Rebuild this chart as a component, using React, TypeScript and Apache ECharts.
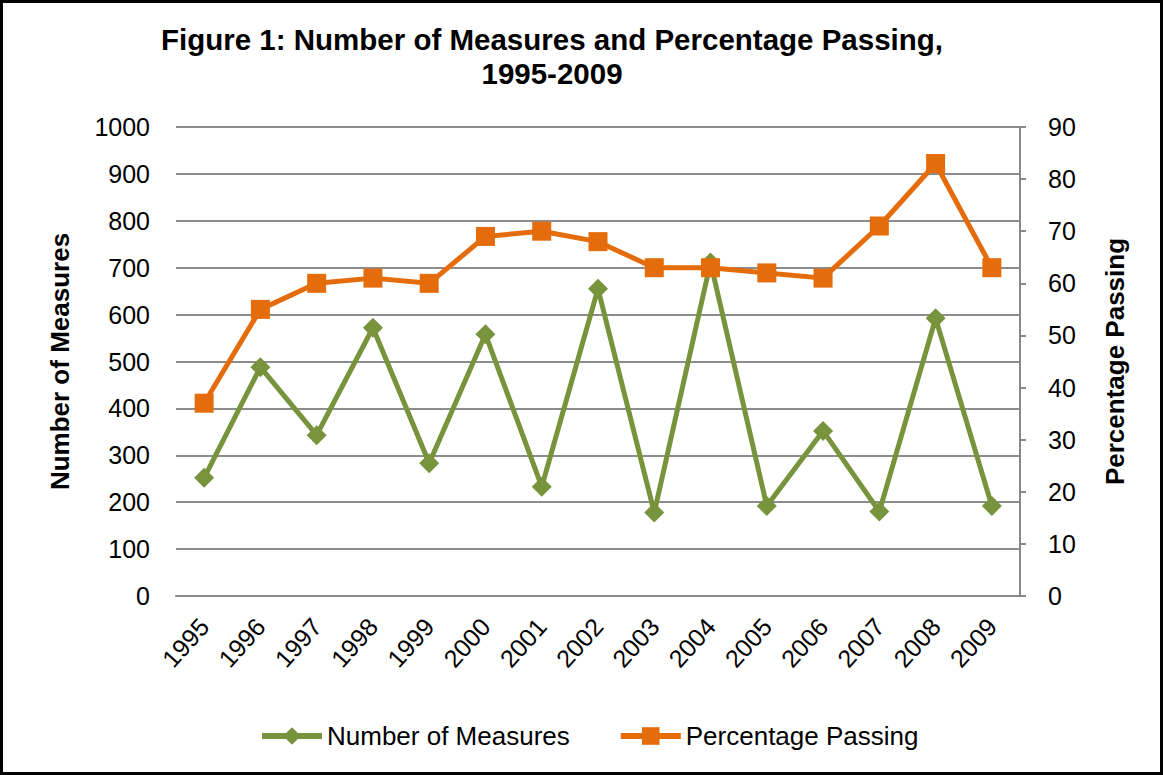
import React, { useEffect, useRef } from "react";
import * as echarts from "echarts";

const years = ["1995","1996","1997","1998","1999","2000","2001","2002","2003","2004","2005","2006","2007","2008","2009"];
const measures = [252, 488, 343, 572, 283, 558, 233, 655, 178, 711, 192, 352, 180, 592, 192];
const passing = [37, 55, 60, 61, 60, 69, 70, 68, 63, 63, 62, 61, 71, 83, 63];
const titleText = "Figure 1: Number of Measures and Percentage Passing,\n1995-2009";

export default function App() {
  const ref = useRef<HTMLDivElement>(null);
  useEffect(() => {
    document.body.style.margin = "0";
    const chart = echarts.init(ref.current!, null, { renderer: "svg" });
    const font = "Liberation Sans, Arial, sans-serif";
    chart.setOption({
      animation: false,
      backgroundColor: "#ffffff",
      textStyle: { fontFamily: font },
      title: {
        text: titleText,
        left: 547,
        top: 17,
        textAlign: "center",
        textStyle: { fontFamily: font, fontSize: 29.5, fontWeight: "bold", color: "#000", lineHeight: 34 },
      },
      graphic: [
        { type: "rect", shape: { x: 1.5, y: 1.5, width: 1160, height: 772 }, style: { fill: "none", stroke: "#000", lineWidth: 3 } },
      ],
      legend: {
        top: 718,
        left: 254,
        itemWidth: 60,
        itemHeight: 22,
        itemGap: 48,
        lineStyle: { width: 6 },
        textStyle: { fontFamily: font, fontSize: 26, color: "#000" },
        data: ["Number of Measures", "Percentage Passing"],
      },
      grid: { left: 176, right: 143, top: 127, bottom: 179 },
      xAxis: {
        type: "category",
        data: years,
        boundaryGap: true,
        axisLine: { show: true, lineStyle: { color: "#888", width: 2 } },
        axisTick: { show: false },
        axisLabel: { rotate: 48, fontSize: 25, color: "#000", fontFamily: font, margin: 26 },
      },
      yAxis: [
        {
          type: "value",
          min: 0,
          max: 1000,
          interval: 100,
          name: "Number of Measures",
          nameLocation: "middle",
          nameGap: 103,
          nameTextStyle: { fontFamily: font, fontSize: 26, fontWeight: "bold", color: "#000" },
          axisLine: { show: false },
          axisTick: { show: false },
          axisLabel: { fontSize: 25, color: "#000", fontFamily: font, margin: 26, formatter: (v: number) => String(v) },
          splitLine: { show: true, lineStyle: { color: "#8c8c8c", width: 2 } },
        },
        {
          type: "value",
          min: 0,
          max: 90,
          interval: 10,
          position: "right",
          name: "Percentage Passing",
          nameLocation: "middle",
          nameGap: 82,
          nameRotate: 90,
          nameTextStyle: { fontFamily: font, fontSize: 26, fontWeight: "bold", color: "#000" },
          axisLine: { show: true, lineStyle: { color: "#888", width: 2 } },
          axisTick: { show: true, length: 6, lineStyle: { color: "#888", width: 2 } },
          axisLabel: { fontSize: 25, color: "#000", fontFamily: font, margin: 28 },
          splitLine: { show: false },
        },
      ],
      series: [
        {
          name: "Number of Measures",
          type: "line",
          yAxisIndex: 0,
          data: measures,
          symbol: "diamond",
          symbolSize: 20,
          color: "#77933C",
          lineStyle: { width: 5, color: "#77933C" },
          itemStyle: { color: "#77933C" },
        },
        {
          name: "Percentage Passing",
          type: "line",
          yAxisIndex: 1,
          data: passing,
          symbol: "rect",
          symbolSize: 19,
          color: "#E46C0A",
          lineStyle: { width: 5, color: "#E46C0A" },
          itemStyle: { color: "#E46C0A" },
        },
      ],
    });
    return () => chart.dispose();
  }, []);
  return <div ref={ref} style={{ width: 1163, height: 775 }} />;
}
